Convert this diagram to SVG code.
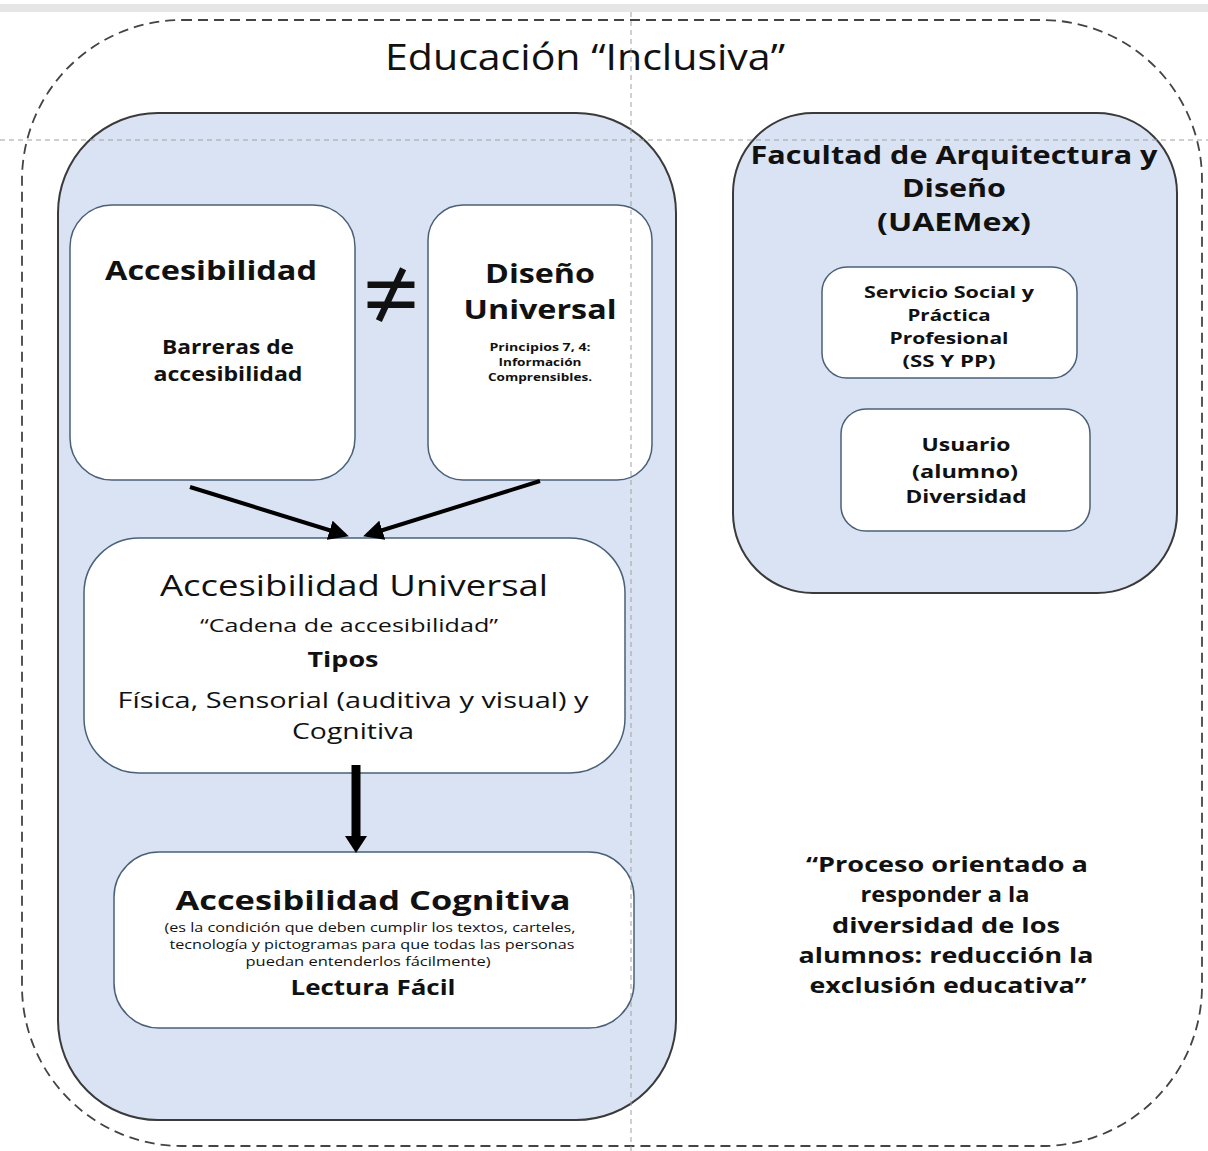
<svg xmlns="http://www.w3.org/2000/svg" width="1208" height="1151" viewBox="0 0 1208 1151">
<defs>
<style>
.panel{fill:#dae3f3;stroke:#3a3a3a;stroke-width:2}
.box{fill:#fff;stroke:#4a6078;stroke-width:1.5}
.guide{fill:none;stroke:#a0a0a0;stroke-width:1;stroke-dasharray:5 4}
.t{font-family:"Open Sans","Liberation Sans",sans-serif;fill:#111;text-anchor:middle}
.b{font-weight:bold}
.arr{stroke:#000;stroke-width:4;fill:none}
</style>
<marker id="ah" markerWidth="5" markerHeight="5" refX="4" refY="2.5" orient="auto" markerUnits="strokeWidth">
<path d="M0,0 L5,2.5 L0,5 z" fill="#000"/>
</marker>
</defs>
<rect x="0" y="0" width="1208" height="1151" fill="#fff"/>
<rect x="0" y="4" width="1208" height="8" fill="#e6e6e6"/>

<g id="outer">
<rect x="22" y="20" width="1180" height="1126" rx="160" ry="160" fill="none" stroke="#444" stroke-width="1.8" stroke-dasharray="10 6"/>
<text class="t" x="585" y="70" font-size="37" textLength="400" lengthAdjust="spacingAndGlyphs">Educación “Inclusiva”</text>
</g>

<g id="left-panel">
<rect class="panel" x="58" y="113" width="618" height="1007" rx="100" ry="100"/>
</g>

<g id="right-panel">
<rect class="panel" x="733" y="113" width="444" height="480" rx="80" ry="80"/>
<text class="t b" x="954" y="164" font-size="25" textLength="407" lengthAdjust="spacingAndGlyphs">Facultad de Arquitectura y</text>
<text class="t b" x="954" y="197" font-size="25" textLength="104" lengthAdjust="spacingAndGlyphs">Diseño</text>
<text class="t b" x="954" y="231" font-size="25" textLength="154" lengthAdjust="spacingAndGlyphs">(UAEMex)</text>
</g>

<g id="accesibilidad">
<rect class="box" x="70" y="205" width="285" height="275" rx="42" ry="42"/>
<text class="t b" x="211" y="280" font-size="27" textLength="212" lengthAdjust="spacingAndGlyphs">Accesibilidad</text>
<text class="t b" x="228" y="354" font-size="19" textLength="132" lengthAdjust="spacingAndGlyphs">Barreras de</text>
<text class="t b" x="228" y="381" font-size="19" textLength="149" lengthAdjust="spacingAndGlyphs">accesibilidad</text>
</g>

<g id="diseno-universal">
<rect class="box" x="428" y="205" width="224" height="275" rx="35" ry="35"/>
<text class="t b" x="540" y="283" font-size="27" textLength="110" lengthAdjust="spacingAndGlyphs">Diseño</text>
<text class="t b" x="540" y="319" font-size="27" textLength="153" lengthAdjust="spacingAndGlyphs">Universal</text>
<text class="t b" x="540" y="351" font-size="10" textLength="101" lengthAdjust="spacingAndGlyphs">Principios 7, 4:</text>
<text class="t b" x="540" y="366" font-size="10" textLength="83" lengthAdjust="spacingAndGlyphs">Información</text>
<text class="t b" x="540" y="381" font-size="10" textLength="104" lengthAdjust="spacingAndGlyphs">Comprensibles.</text>
</g>

<g id="neq">
<text class="t" x="391" y="330" font-size="100">≠</text>
</g>

<g id="acc-universal">
<rect class="box" x="84" y="538" width="541" height="235" rx="55" ry="55"/>
<text class="t" x="354" y="596" font-size="29" textLength="388" lengthAdjust="spacingAndGlyphs">Accesibilidad Universal</text>
<text class="t" x="349" y="632" font-size="19" textLength="298" lengthAdjust="spacingAndGlyphs">“Cadena de accesibilidad”</text>
<text class="t b" x="343" y="667" font-size="21" textLength="71" lengthAdjust="spacingAndGlyphs">Tipos</text>
<text class="t" x="353" y="708" font-size="22" textLength="471" lengthAdjust="spacingAndGlyphs">Física, Sensorial (auditiva y visual) y</text>
<text class="t" x="353" y="739" font-size="22" textLength="122" lengthAdjust="spacingAndGlyphs">Cognitiva</text>
</g>

<g id="acc-cognitiva">
<rect class="box" x="114" y="852" width="520" height="176" rx="45" ry="45"/>
<text class="t b" x="373" y="910" font-size="27" textLength="395" lengthAdjust="spacingAndGlyphs">Accesibilidad Cognitiva</text>
<text class="t" x="370" y="932" font-size="12" textLength="411" lengthAdjust="spacingAndGlyphs">(es la condición que deben cumplir los textos, carteles,</text>
<text class="t" x="372" y="949" font-size="12" textLength="405" lengthAdjust="spacingAndGlyphs">tecnología y pictogramas para que todas las personas</text>
<text class="t" x="368" y="966" font-size="12" textLength="245" lengthAdjust="spacingAndGlyphs">puedan entenderlos fácilmente)</text>
<text class="t b" x="373" y="995" font-size="22" textLength="165" lengthAdjust="spacingAndGlyphs">Lectura Fácil</text>
</g>

<g id="servicio">
<rect class="box" x="822" y="267" width="255" height="111" rx="25" ry="25"/>
<text class="t b" x="949" y="298" font-size="16" textLength="170" lengthAdjust="spacingAndGlyphs">Servicio Social y</text>
<text class="t b" x="949" y="321" font-size="16" textLength="83" lengthAdjust="spacingAndGlyphs">Práctica</text>
<text class="t b" x="949" y="344" font-size="16" textLength="119" lengthAdjust="spacingAndGlyphs">Profesional</text>
<text class="t b" x="949" y="367" font-size="16" textLength="93" lengthAdjust="spacingAndGlyphs">(SS Y PP)</text>
</g>

<g id="usuario">
<rect class="box" x="841" y="409" width="249" height="122" rx="25" ry="25"/>
<text class="t b" x="966" y="451" font-size="18" textLength="89" lengthAdjust="spacingAndGlyphs">Usuario</text>
<text class="t b" x="965" y="478" font-size="18" textLength="106" lengthAdjust="spacingAndGlyphs">(alumno)</text>
<text class="t b" x="966" y="503" font-size="18" textLength="121" lengthAdjust="spacingAndGlyphs">Diversidad</text>
</g>

<g id="proceso">
<text class="t b" x="947" y="872" font-size="21" textLength="282" lengthAdjust="spacingAndGlyphs">“Proceso orientado a</text>
<text class="t b" x="945" y="902" font-size="21" textLength="169" lengthAdjust="spacingAndGlyphs">responder a la</text>
<text class="t b" x="946" y="933" font-size="21" textLength="228" lengthAdjust="spacingAndGlyphs">diversidad de los</text>
<text class="t b" x="946" y="963" font-size="21" textLength="295" lengthAdjust="spacingAndGlyphs">alumnos: reducción la</text>
<text class="t b" x="948" y="993" font-size="21" textLength="277" lengthAdjust="spacingAndGlyphs">exclusión educativa”</text>
</g>

<g id="connectors">
<line class="arr" x1="190" y1="487" x2="345" y2="535" marker-end="url(#ah)"/>
<line class="arr" x1="540" y1="481" x2="367" y2="535" marker-end="url(#ah)"/>
<line x1="356" y1="765" x2="356" y2="838" stroke="#000" stroke-width="9"/>
<path d="M345,836 L367,836 L356,853 z" fill="#000"/>
</g>

<g id="guides">
<line class="guide" x1="631" y1="12" x2="631" y2="1151"/>
<line class="guide" x1="0" y1="140" x2="1208" y2="140"/>
</g>
</svg>
